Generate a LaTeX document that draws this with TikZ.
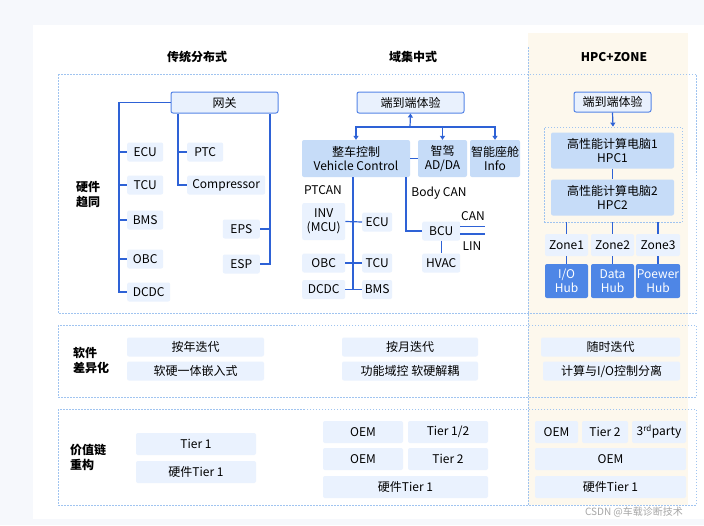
\documentclass[tikz,border=0pt]{standalone}
\usepackage{fontspec}
\setmainfont{Noto Sans CJK SC}
\usepackage{tikz}
\usetikzlibrary{arrows.meta, positioning, calc}
\definecolor{lineblue}{RGB}{46, 98, 214}
\definecolor{keyborder}{RGB}{84, 132, 230}
\definecolor{keyfill}{RGB}{233, 241, 253}
\definecolor{cellfill}{RGB}{234, 242, 254}
\definecolor{midfill}{RGB}{198, 220, 248}
\definecolor{hubfill}{RGB}{78, 134, 230}
\definecolor{dotblue}{RGB}{160, 196, 240}
\definecolor{creamcol}{RGB}{253, 248, 237}
\definecolor{pagebg}{RGB}{246, 248, 252}

\tikzset{
  cell/.style={fill=cellfill, rounded corners=2pt, inner sep=1pt, minimum height=19, align=center},
  keybox/.style={draw=keyborder, line width=1pt, fill=keyfill, rounded corners=2pt, inner sep=1pt, align=center},
  midcell/.style={cell, fill=midfill},
  hubcell/.style={cell, fill=hubfill, text=white},
  conn/.style={draw=lineblue, line width=1.2pt},
  arr/.style={conn, -{Triangle[length=4pt, width=5pt]}},
  dotbox/.style={draw=dotblue, line width=0.8pt, dash pattern=on 1.5pt off 1.5pt},
  headtext/.style={font=\fontsize{12}{14}\selectfont\bfseries},
  rowtext/.style={font=\fontsize{12}{15}\selectfont\bfseries, align=left},
}

\begin{document}
\begin{tikzpicture}[x=1pt, y=-1pt, font=\fontsize{12}{14}\selectfont]
    \useasboundingbox (0,0) rectangle (704,525);
    % Page and columns
    \fill[pagebg] (0,0) rectangle (704,525);
    \fill[white] (33,25) rectangle (704,519);
    \fill[creamcol] (528,33) rectangle (688,505);
    \draw[dotbox] (58,74) rectangle (696,313);
    \draw[dotbox] (58,325) rectangle (696,397);
    \draw[dotbox] (58,409) rectangle (696,505);
    \draw[dotbox] (528,47) -- (528,505);

    % Column headers
    \node[headtext] (hdA) at (197,57) {传统分布式};
    \node[headtext] (hdB) at (413,57) {域集中式};
    \node[headtext] (hdC) at (614,57) {HPC+ZONE};

    % Row labels
    \node[rowtext] (rowA) at (88,195) {硬件\\趋同};
    \node[rowtext] (rowB) at (91,360) {软件\\差异化};
    \node[rowtext] (rowC) at (88,457) {价值链\\重构};

    % Traditional: gateway tree
    \node[keybox, minimum width=107, minimum height=21] (gw) at (224.5,102.5) {网关};
    \node[cell, anchor=west, minimum width=36] (ecuA) at (127,152) {ECU};
    \node[cell, anchor=west, minimum width=36] (tcuA) at (127,185) {TCU};
    \node[cell, anchor=west, minimum width=36] (bmsA) at (127,220) {BMS};
    \node[cell, anchor=west, minimum width=36] (obcA) at (127,259) {OBC};
    \node[cell, anchor=west, minimum width=43] (dcdcA) at (127,292) {DCDC};
    \node[cell, anchor=west, minimum width=36] (ptc) at (187,152) {PTC};
    \node[cell, anchor=west, minimum width=78] (comp) at (187,185) {Compressor};
    \node[cell, anchor=east, minimum width=37] (eps) at (260,229) {EPS};
    \node[cell, anchor=east, minimum width=37] (esp) at (260,264) {ESP};
    \coordinate (trunkA) at (119,0);
    \coordinate (trunkB) at (178,0);
    \coordinate (trunkC) at (270,0);
    \draw[conn] (gw.west) -| (trunkA |- dcdcA.west) -- (dcdcA.west);
    \foreach \n in {ecuA, tcuA, bmsA, obcA}
      \draw[conn] (trunkA |- \n.west) -- (\n.west);
    \draw[conn] (trunkB |- gw.south) |- (comp.west);
    \draw[conn] (trunkB |- ptc.west) -- (ptc.west);
    \draw[conn] (trunkC |- gw.south) |- (esp.east);
    \draw[conn] (eps.east) -- (trunkC |- eps.east);

    % Domain: controllers
    \node[keybox, minimum width=107, minimum height=21] (e2eB) at (410.5,102.5) {端到端体验};
    \node[midcell, minimum width=108, minimum height=37] (vc) at (356,158.5) {整车控制\\Vehicle Control};
    \node[midcell, minimum width=49, minimum height=37] (ad) at (442.5,158.5) {智驾\\AD/DA};
    \node[midcell, minimum width=50, minimum height=37] (info) at (495,158.5) {智能座舱\\Info};
    \coordinate (bus) at (410,127);
    \draw[arr] (bus) -- (e2eB.south);
    \draw[arr] (bus) -| (vc.north);
    \draw[arr] (bus) -| (ad.north);
    \draw[arr] (bus) -| (info.north);
    \draw[conn] (vc.east) -- (ad.west);

    % Domain: PTCAN branch
    \node (ptcan) at (323,190) {PTCAN};
    \node[cell, anchor=west, minimum width=43, minimum height=37] (inv) at (302,221.5) {INV\\(MCU)};
    \node[cell, anchor=west, minimum width=30] (ecuB) at (362,222) {ECU};
    \node[cell, anchor=west, minimum width=43] (obcB) at (302,263) {OBC};
    \node[cell, anchor=west, minimum width=30] (tcuB) at (362,263) {TCU};
    \node[cell, anchor=west, minimum width=43] (dcdcB) at (302,289.5) {DCDC};
    \node[cell, anchor=west, minimum width=30] (bmsB) at (362,289.5) {BMS};
    \coordinate (trunkD) at (353,0);
    \draw[conn] (trunkD |- vc.south) -- (trunkD |- dcdcB.east);
    \draw[conn] (inv.east) -- (ecuB.west);
    \draw[conn] (obcB.east) -- (tcuB.west);
    \draw[conn] (dcdcB.east) -- (bmsB.west);

    % Domain: Body CAN branch
    \node (bodycan) at (439,193) {Body CAN};
    \node[cell, anchor=west, minimum width=38] (bcu) at (422,231) {BCU};
    \node[cell, anchor=west, minimum width=38] (hvac) at (422,263) {HVAC};
    \coordinate (trunkE) at (406,0);
    \draw[conn] (trunkE |- vc.south) |- (bcu.west);
    \draw[conn] (bcu) -- (hvac);
    \coordinate (canR) at (485,226.5);
    \coordinate (linR) at (485,234);
    \draw[conn] (bcu.east |- canR) -- (canR);
    \draw[conn] (bcu.east |- linR) -- (linR);
    \node (can) at (473,216) {CAN};
    \node (lin) at (472,246) {LIN};

    % HPC+ZONE
    \node[keybox, minimum width=77, minimum height=20] (e2eC) at (612.5,102) {端到端体验};
    \node[dotbox, minimum width=138, minimum height=95] (hpcgrp) at (613,174.5) {};
    \draw[arr] (e2eC.south) -- (hpcgrp.north);
    \node[midcell, minimum width=123, minimum height=36] (hpc1) at (612.5,150.5) {高性能计算电脑1\\HPC1};
    \node[midcell, minimum width=123, minimum height=36] (hpc2) at (612.5,197.5) {高性能计算电脑2\\HPC2};
    \draw[conn, line width=0.8pt] (hpc1) -- (hpc2);
    \node[cell, minimum width=43, minimum height=22] (zone1) at (566.5,245) {Zone1};
    \node[cell, minimum width=43, minimum height=22] (zone2) at (612.5,245) {Zone2};
    \node[cell, minimum width=44, minimum height=22] (zone3) at (658,245) {Zone3};
    \node[hubcell, minimum width=43, minimum height=34] (hub1) at (566.5,281) {I/O\\Hub};
    \node[hubcell, minimum width=43, minimum height=34] (hub2) at (612.5,281) {Data\\Hub};
    \node[hubcell, minimum width=44, minimum height=34] (hub3) at (658,281) {Poewer\\Hub};
    \foreach \i in {1,2,3} {
      \draw[conn] (zone\i.north |- hpcgrp.south) -- (zone\i.north);
      \draw[conn] (zone\i) -- (hub\i);
    }

    % Software row
    \node[cell, minimum width=137] (swA1) at (195.5,347) {按年迭代};
    \node[cell, minimum width=137] (swA2) at (195.5,371) {软硬一体嵌入式};
    \node[cell, minimum width=136] (swB1) at (410,347) {按月迭代};
    \node[cell, minimum width=136] (swB2) at (410,371) {功能域控 软硬解耦};
    \node[cell, minimum width=139] (swC1) at (610.5,347) {随时迭代};
    \node[cell, minimum width=137] (swC2) at (611.5,371) {计算与I/O控制分离};

    % Value chain row
    \node[cell, minimum width=120, minimum height=22] (vaA1) at (196,444) {Tier 1};
    \node[cell, minimum width=120, minimum height=22] (vaA2) at (196,472) {硬件Tier 1};
    \node[cell, minimum width=80, minimum height=22] (vaB1) at (363,432) {OEM};
    \node[cell, minimum width=80, minimum height=22] (vaB2) at (448,432) {Tier 1/2};
    \node[cell, minimum width=80, minimum height=22] (vaB3) at (363,459) {OEM};
    \node[cell, minimum width=80, minimum height=22] (vaB4) at (448,459) {Tier 2};
    \node[cell, minimum width=165, minimum height=22] (vaB5) at (405.5,487) {硬件Tier 1};
    \node[cell, minimum width=43, minimum height=22] (vaC1) at (556.5,432) {OEM};
    \node[cell, minimum width=46, minimum height=22] (vaC2) at (605,432) {Tier 2};
    \node[cell, minimum width=54, minimum height=22] (vaC3) at (659,432) {3\textsuperscript{rd}party};
    \node[cell, minimum width=151, minimum height=22] (vaC4) at (610.5,459) {OEM};
    \node[cell, minimum width=151, minimum height=22] (vaC5) at (610.5,487) {硬件Tier 1};

    % Watermark
    \node[text=black!35, font=\fontsize{10}{12}\selectfont] (mark) at (634,512) {CSDN @车载诊断技术};
\end{tikzpicture}
\end{document}
